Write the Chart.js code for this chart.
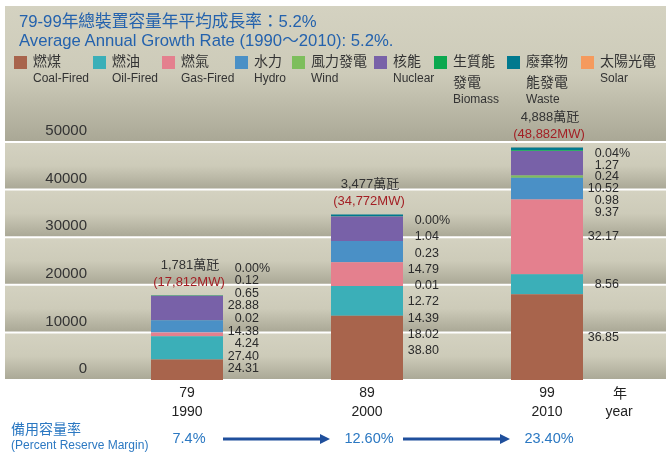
<!DOCTYPE html>
<html>
<head>
<meta charset="utf-8">
<script src="https://cdn.jsdelivr.net/npm/chart.js@4.4.0/dist/chart.umd.min.js"></script>
<style>
  body { margin: 0; background: #fff; }
  #wrap { position: relative; width: 666px; height: 452px; font-family: "Liberation Sans", "Noto Sans CJK TC", sans-serif; }
  #chart { position: absolute; left: 0; top: 0; }
  .title { position: absolute; left: 19px; color: #2462ad; font-size: 16.7px; white-space: nowrap; line-height: 19px; }
  .lg { position: absolute; top: 0; color: #333; white-space: nowrap; }
  .lg .sw { position: absolute; top: 56px; left: 0; width: 13px; height: 13px; }
  .lg .txt { position: absolute; top: 51px; left: 19px; }
  .lg .zh { font-size: 14px; line-height: 21px; }
  .lg .en { font-size: 12px; line-height: 17px; margin-top: -2px; }
</style>
</head>
<body>
<div id="wrap">
  <canvas id="chart" width="666" height="452"></canvas>
  <div class="title" style="top:12px">79-99年總裝置容量年平均成長率：5.2%</div>
  <div class="title" style="top:31px">Average Annual Growth Rate (1990～2010): 5.2%.</div>
  <div id="legend"></div>
</div>
<script>
// years (ROC / AD)
const yearsRoc = ['79', '89', '99'];
const yearsAd = ['1990', '2000', '2010'];
// total installed capacity, MW
const totals = [17812, 34772, 48882];
// share of each source, %
const coal = [24.31, 38.80, 36.85];
const oil = [27.40, 18.02, 8.56];
const gas = [4.24, 14.39, 32.17];
const hydro = [14.38, 12.72, 9.37];
const wind = [0.02, 0.01, 0.98];
const nuclear = [28.88, 14.79, 10.52];
const biomass = [0.65, 0.23, 0.24];
const waste = [0.12, 1.04, 1.27];
const solar = [0.00, 0.00, 0.04];
// reserve margin
const reserveLabels = ['7.4%', '12.60%', '23.40%'];
const yTicks = [0, 10000, 20000, 30000, 40000, 50000];

const sourcesZh = ['燃煤', '燃油', '燃氣', '水力', '風力發電', '核能', '生質能\n發電', '廢棄物\n能發電', '太陽光電'];
const sourcesEn = ['Coal-Fired', 'Oil-Fired', 'Gas-Fired', 'Hydro', 'Wind', 'Nuclear', 'Biomass', 'Waste', 'Solar'];
const shares = [coal, oil, gas, hydro, wind, nuclear, biomass, waste, solar];
const colors = ['#a8644c', '#3bafb8', '#e4808e', '#4a90c6', '#7dbe5c', '#7861a8', '#0ba84f', '#00798e', '#f59a5d'];

const legendX = [14, 93, 162, 235, 292, 374, 434, 507, 581];
const labelGap = [12.6, 16.3, 11.8];
const FONT = '"Liberation Sans", "Noto Sans CJK TC", sans-serif';

// html legend
const legendEl = document.getElementById('legend');
sourcesZh.forEach((zh, k) => {
  const d = document.createElement('div');
  d.className = 'lg';
  d.style.left = legendX[k] + 'px';
  d.innerHTML = '<div class="sw" style="background:' + colors[k] + '"></div>' +
    '<div class="txt"><div class="zh">' + zh.replace('\n', '<br>') + '</div><div class="en">' + sourcesEn[k] + '</div></div>';
  legendEl.appendChild(d);
});

const mw = shares.map(s => s.map((p, i) => p * totals[i] / 100));

const panelPlugin = {
  id: 'panel',
  beforeDraw(chart) {
    const ctx = chart.ctx, y = chart.scales.y;
    const left = 5, right = 666, top = 6;
    const lines = yTicks.map(v => y.getPixelForValue(v));
    const edges = [top].concat(lines.slice().reverse());
    ctx.save();
    for (let i = 0; i < edges.length - 1; i++) {
      const t = edges[i], b = edges[i + 1];
      const g = ctx.createLinearGradient(0, t, 0, b);
      g.addColorStop(0, '#d4d2c1');
      g.addColorStop(0.5, '#cdcbb9');
      g.addColorStop(1, '#a9a795');
      ctx.fillStyle = g;
      ctx.fillRect(left, t, right - left, b - t);
    }
    ctx.strokeStyle = '#ffffff';
    ctx.lineWidth = 2;
    lines.forEach(p => {
      ctx.beginPath();
      ctx.moveTo(left, p);
      ctx.lineTo(right, p);
      ctx.stroke();
    });
    ctx.restore();
  },
  afterDraw(chart) {
    const ctx = chart.ctx, y = chart.scales.y, x = chart.scales.x;
    ctx.save();
    ctx.textBaseline = 'middle';
    yearsRoc.forEach((yr, i) => {
      const bar = chart.getDatasetMeta(0).data[i];
      const cx = bar.x, right = cx + bar.width / 2;
      // per-source percent labels
      let cum = 0;
      const centers = [];
      mw.forEach(s => { centers.push(y.getPixelForValue(cum + s[i] / 2)); cum += s[i]; });
      const topPx = y.getPixelForValue(cum), bottomPx = y.getPixelForValue(0);
      const gap = labelGap[i];
      const order = centers.map((c, k) => k).reverse();
      const pos = [];
      let prev = topPx + 6 - gap;
      order.forEach(k => { pos[k] = Math.max(centers[k], prev + gap); prev = pos[k]; });
      let next = bottomPx - 11 + gap;
      order.slice().reverse().forEach(k => { pos[k] = Math.min(pos[k], next - gap); next = pos[k]; });
      ctx.font = '12.5px ' + FONT;
      ctx.fillStyle = '#2b2b2b';
      order.forEach((k, n) => {
        ctx.textAlign = 'right';
        ctx.fillText(shares[k][i].toFixed(2), right + 36, pos[k]);
        if (n === 0) { ctx.textAlign = 'left'; ctx.fillText('%', right + 36, pos[k]); }
      });
      // totals above bar
      ctx.textAlign = 'center';
      ctx.font = '13px ' + FONT;
      ctx.fillStyle = '#333';
      ctx.fillText(Math.round(totals[i] / 10).toLocaleString('en-US') + '萬瓩', cx + 3, topPx - 30);
      ctx.fillStyle = '#a31f24';
      ctx.fillText('(' + totals[i].toLocaleString('en-US') + 'MW)', cx + 2, topPx - 13);
      // reserve margin
      ctx.font = '14.5px ' + FONT;
      ctx.fillStyle = '#2b78c2';
      ctx.fillText(reserveLabels[i], cx + 2, 439);
      if (i < yearsRoc.length - 1) {
        const x0 = cx + 36, x1 = x.getPixelForValue(i + 1) - 37;
        ctx.strokeStyle = '#1f4f9c';
        ctx.fillStyle = '#1f4f9c';
        ctx.lineWidth = 3;
        ctx.beginPath();
        ctx.moveTo(x0, 439);
        ctx.lineTo(x1 - 8, 439);
        ctx.stroke();
        ctx.beginPath();
        ctx.moveTo(x1, 439);
        ctx.lineTo(x1 - 10, 434);
        ctx.lineTo(x1 - 10, 444);
        ctx.closePath();
        ctx.fill();
      }
    });
    // axis unit and reserve caption
    ctx.textAlign = 'center';
    ctx.fillStyle = '#222';
    ctx.font = '14px ' + FONT;
    ctx.fillText('年', 620, 394);
    ctx.fillText('year', 619, 412);
    ctx.textAlign = 'left';
    ctx.fillStyle = '#2b78c2';
    ctx.font = '14px ' + FONT;
    ctx.fillText('備用容量率', 11, 430);
    ctx.font = '12px ' + FONT;
    ctx.fillText('(Percent Reserve Margin)', 11, 446);
    ctx.restore();
  }
};

new Chart(document.getElementById('chart'), {
  type: 'bar',
  data: {
    labels: yearsRoc.map((r, i) => [r, yearsAd[i]]),
    datasets: sourcesEn.map((name, k) => ({
      label: name,
      data: mw[k],
      backgroundColor: colors[k],
      borderWidth: 0,
      stack: 'cap',
      barPercentage: 0.4,
      categoryPercentage: 1
    }))
  },
  options: {
    responsive: false,
    animation: false,
    devicePixelRatio: 1,
    layout: { padding: { left: 5, right: 29, top: 142, bottom: 0 } },
    plugins: { legend: { display: false }, tooltip: { enabled: false } },
    scales: {
      x: {
        stacked: true,
        grid: { display: false, drawTicks: false },
        border: { display: false },
        ticks: { color: '#222', padding: 4, font: { family: FONT, size: 14, lineHeight: 1.35 } },
        afterFit(scale) { scale.height = 72; }
      },
      y: {
        stacked: true,
        min: 0,
        max: 50000,
        grid: { display: false, drawTicks: false },
        border: { display: false },
        afterBuildTicks(scale) { scale.ticks = yTicks.map(v => ({ value: v })); },
        ticks: { color: '#333', padding: 10, labelOffset: -11, font: { family: FONT, size: 15 }, callback: v => String(v) },
        afterFit(scale) { scale.width = 92; }
      }
    }
  },
  plugins: [panelPlugin]
});
</script>
</body>
</html>
